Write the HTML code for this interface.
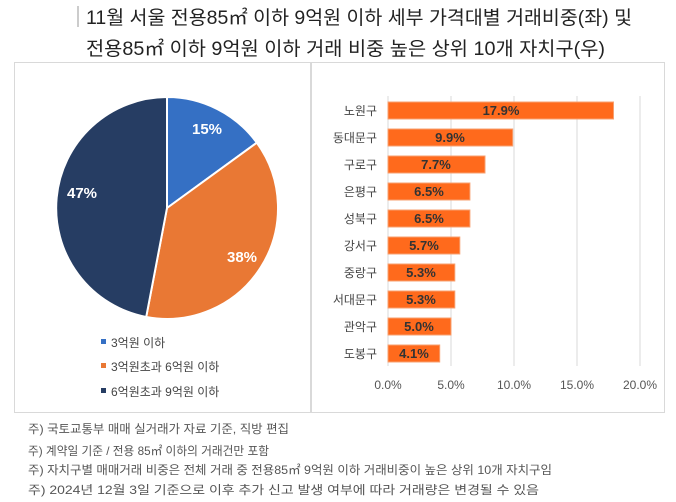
<!DOCTYPE html>
<html><head><meta charset="utf-8"><style>
body{margin:0;background:#fff;width:676px;height:497px;overflow:hidden;font-family:"Liberation Sans","Noto Sans CJK KR",sans-serif;}
</style></head><body>
<svg width="676" height="497" xmlns="http://www.w3.org/2000/svg" style="font-family:'Liberation Sans','Noto Sans CJK KR',sans-serif">
<line x1="78" y1="6" x2="78" y2="27" stroke="#999" stroke-width="1"/>
<text x="86" y="24" font-size="19" fill="#222" textLength="546" lengthAdjust="spacingAndGlyphs">11월 서울 전용85㎡ 이하 9억원 이하 세부 가격대별 거래비중(좌) 및</text>
<text x="86" y="55" font-size="19" fill="#222" textLength="519" lengthAdjust="spacingAndGlyphs">전용85㎡ 이하 9억원 이하 거래 비중 높은 상위 10개 자치구(우)</text>
<rect x="14.5" y="62.5" width="296" height="350" fill="none" stroke="#d9d9d9"/>
<rect x="311.5" y="62.5" width="353" height="350" fill="none" stroke="#d9d9d9"/>
<g stroke="#fff" stroke-width="2">
<path d="M167,208 L167,97 A111,111 0 0 1 256.8,142.7 Z" fill="#3570c4"/>
<path d="M167,208 L256.8,142.7 A111,111 0 0 1 146.2,317 Z" fill="#e97834"/>
<path d="M167,208 L146.2,317 A111,111 0 0 1 167,97 Z" fill="#263d63"/>
</g>
<g font-size="15" font-weight="bold" fill="#fff" text-anchor="middle">
<text x="207" y="134">15%</text><text x="242" y="262">38%</text><text x="82" y="198">47%</text>
</g>
<g font-size="12" fill="#444">
<rect x="101" y="339" width="5" height="5" fill="#3570c4"/><text x="111" y="347">3억원 이하</text>
<rect x="101" y="363" width="5" height="5" fill="#e97834"/><text x="111" y="371">3억원초과 6억원 이하</text>
<rect x="101" y="388" width="5" height="5" fill="#263d63"/><text x="111" y="396">6억원초과 9억원 이하</text>
</g>
<g stroke="#d9d9d9">
<line x1="451" y1="96" x2="451" y2="366"/><line x1="514" y1="96" x2="514" y2="366"/><line x1="577" y1="96" x2="577" y2="366"/><line x1="640" y1="96" x2="640" y2="366"/>
<line x1="388" y1="96" x2="388" y2="366"/>
</g>
<g fill="#ff6a1c" stroke="#f7a070" stroke-width="1">
<rect x="388" y="102" width="225.5" height="17"/>
<rect x="388" y="129" width="124.7" height="17"/>
<rect x="388" y="156" width="97" height="17"/>
<rect x="388" y="183" width="81.9" height="17"/>
<rect x="388" y="210" width="81.9" height="17"/>
<rect x="388" y="237" width="71.8" height="17"/>
<rect x="388" y="264" width="66.8" height="17"/>
<rect x="388" y="291" width="66.8" height="17"/>
<rect x="388" y="318" width="63" height="17"/>
<rect x="388" y="345" width="51.7" height="17"/>
</g>
<g font-size="13" font-weight="bold" fill="#333" text-anchor="middle">
<text x="501" y="115">17.9%</text><text x="450" y="142">9.9%</text><text x="436" y="169">7.7%</text>
<text x="429" y="196">6.5%</text><text x="429" y="223">6.5%</text><text x="424" y="250">5.7%</text>
<text x="421" y="277">5.3%</text><text x="421" y="304">5.3%</text><text x="419" y="331">5.0%</text><text x="414" y="358">4.1%</text>
</g>
<g font-size="12" fill="#444" text-anchor="end">
<text x="377" y="115">노원구</text><text x="377" y="142">동대문구</text><text x="377" y="169">구로구</text>
<text x="377" y="196">은평구</text><text x="377" y="223">성북구</text><text x="377" y="250">강서구</text>
<text x="377" y="277">중랑구</text><text x="377" y="304">서대문구</text><text x="377" y="331">관악구</text><text x="377" y="358">도봉구</text>
</g>
<g font-size="12" fill="#555" text-anchor="middle">
<text x="388" y="389">0.0%</text><text x="451" y="389">5.0%</text><text x="514" y="389">10.0%</text><text x="577" y="389">15.0%</text><text x="640" y="389">20.0%</text>
</g>
<g font-size="12" fill="#555" lengthAdjust="spacingAndGlyphs">
<text x="28" y="433" textLength="261" lengthAdjust="spacingAndGlyphs">주) 국토교통부 매매 실거래가 자료 기준, 직방 편집</text>
<text x="28" y="455" textLength="241" lengthAdjust="spacingAndGlyphs">주) 계약일 기준 / 전용 85㎡ 이하의 거래건만 포함</text>
<text x="28" y="474" textLength="524" lengthAdjust="spacingAndGlyphs">주) 자치구별 매매거래 비중은 전체 거래 중 전용85㎡  9억원 이하 거래비중이 높은 상위 10개 자치구임</text>
<text x="28" y="494" textLength="511" lengthAdjust="spacingAndGlyphs">주) 2024년 12월 3일 기준으로 이후 추가 신고 발생 여부에 따라 거래량은 변경될 수 있음</text>
</g>
</svg>
</body></html>
